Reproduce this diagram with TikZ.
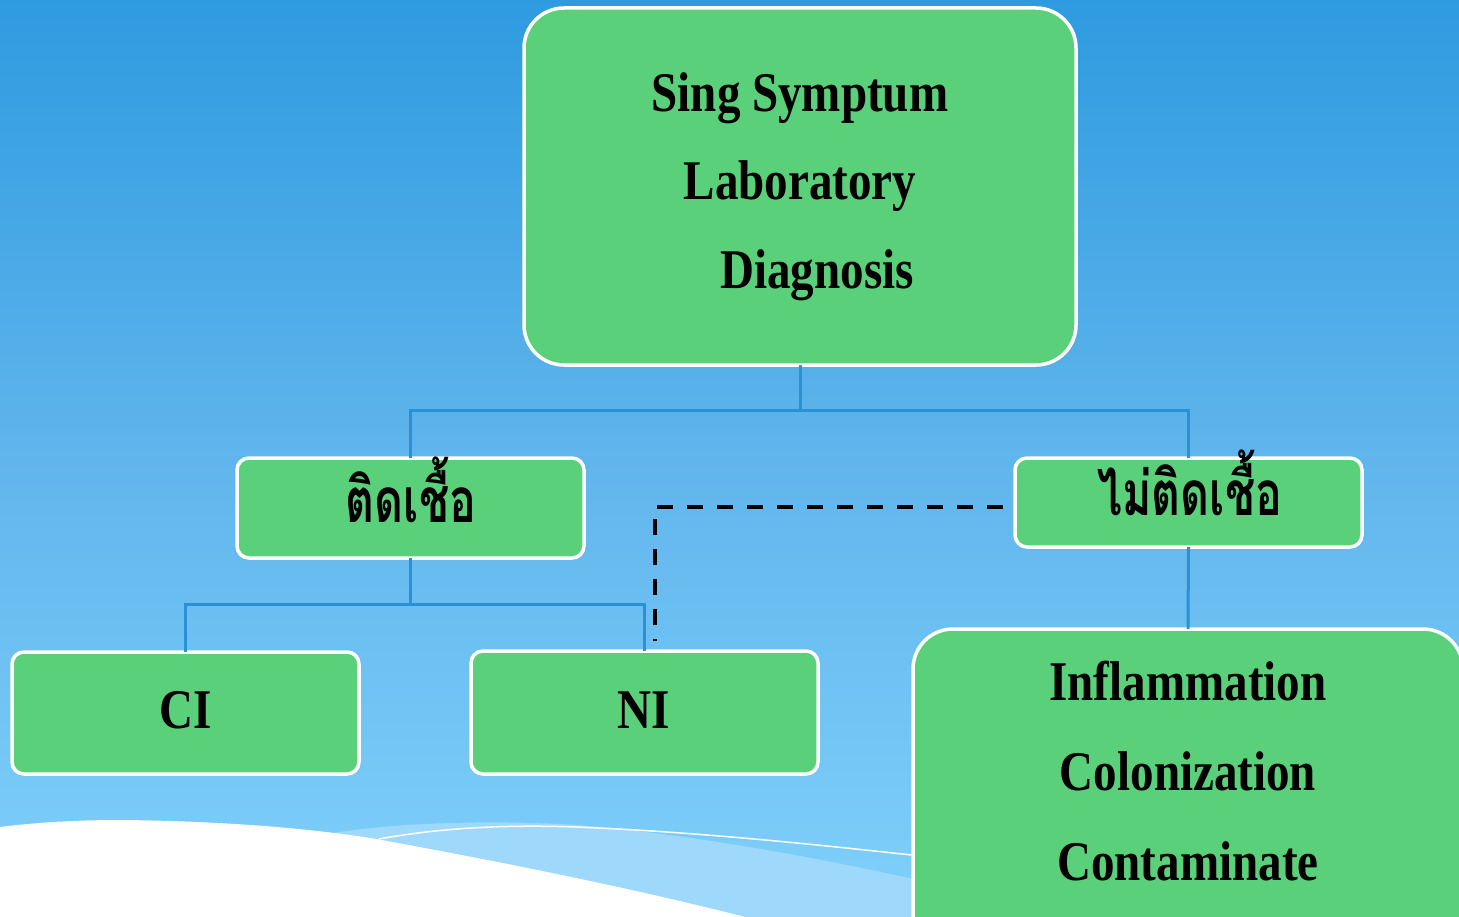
\documentclass[tikz,border=0pt]{standalone}
\usepackage{fontspec}
\newfontfamily\enfont{Liberation Serif}[FakeStretch=0.84]
\newfontfamily\thaifont[Script=Thai,FakeStretch=0.72]{Loma}
\definecolor{bgtop}{RGB}{46,155,224}
\definecolor{bgmid}{RGB}{96,181,236}
\definecolor{bgbot}{RGB}{128,208,251}
\definecolor{boxgreen}{RGB}{91,208,122}
\definecolor{linkblue}{RGB}{42,146,212}
\definecolor{paleband}{RGB}{158,217,252}
\begin{document}
\begin{tikzpicture}[x=1pt,y=-1pt,
 box/.style={draw=white, line width=3.5pt, fill=boxgreen, rounded corners=12pt, inner sep=0pt, outer sep=0pt},
 bigbox/.style={box, rounded corners=40pt},
 entext/.style={font=\enfont\bfseries\fontsize{56}{60}\selectfont, anchor=base, inner sep=0pt},
 thtext/.style={font=\thaifont\bfseries\fontsize{62}{66}\selectfont, anchor=base, inner sep=0pt},
 link/.style={draw=linkblue, line width=3pt},
 dashlink/.style={draw=black, line width=4.5pt, dash pattern=on 16pt off 14pt}]
\useasboundingbox (0,0) rectangle (1459,917);
\clip (0,0) rectangle (1459,917);
% background
\shade[top color=bgtop, bottom color=bgbot, middle color=bgmid] (0,0) rectangle (1459,917);
\fill[paleband] (333,833) .. controls (400,822) and (500,820) .. (576,825)
  .. controls (700,835) and (830,860) .. (940,885) -- (940,917) -- (745,917) -- cycle;
\draw[white, line width=1.5pt] (379,839) .. controls (450,826) and (520,825) .. (576,827)
  .. controls (700,832) and (820,845) .. (930,857);
\fill[white] (0,827) .. controls (40,822) and (80,820) .. (121,820)
  .. controls (220,821) and (310,828) .. (376,839)
  .. controls (480,858) and (620,885) .. (745,917) -- (0,917) -- cycle;
% boxes
\node[bigbox, minimum width=552pt, minimum height=357pt] (top) at (800,186.5) {};
\node[box, minimum width=347pt, minimum height=100pt] (ti) at (410.5,508) {};
\node[box, minimum width=347pt, minimum height=89pt] (mti) at (1188.5,502.5) {};
\node[box, minimum width=347pt, minimum height=122pt] (ci) at (185.5,713) {};
\node[box, minimum width=347pt, minimum height=123pt] (ni) at (644.5,712.5) {};
\node[bigbox, minimum width=550pt, minimum height=331pt] (br) at (1188,794.5) {};
% texts
\node[entext] (t1) at (800,112) {Sing Symptum};
\node[entext] (t2) at (800,200) {Laboratory};
\node[entext] (t3) at (817,289) {Diagnosis};
\node[thtext] (t4) at (411,522) {ติดเชื้อ};
\node[thtext] (t5) at (1190,515) {ไม่ติดเชื้อ};
\node[entext] (t6) at (186,728) {CI};
\node[entext] (t7) at (644,728) {NI};
\node[entext] (t8) at (1188,700) {Inflammation};
\node[entext] (t9) at (1188,790) {Colonization};
\node[entext] (t10) at (1188,880) {Contaminate};
% connectors
\coordinate (j1) at (800,410);
\coordinate (j2) at (410.5,604);
\draw[link] (top.south) -- (j1);
\draw[link] (ti.north) |- (j1);
\draw[link] (mti.north) |- (j1);
\draw[link] (ti.south) -- (j2);
\draw[link] (ci.north) |- (j2);
\draw[link] (ni.north) |- (j2);
\draw[link] (mti.south) -- (br.north);
\draw[dashlink] ([xshift=-12pt,yshift=-4.5pt]mti.west) -| ([xshift=10.5pt,yshift=10pt]ni.north);
\end{tikzpicture}
\end{document}
